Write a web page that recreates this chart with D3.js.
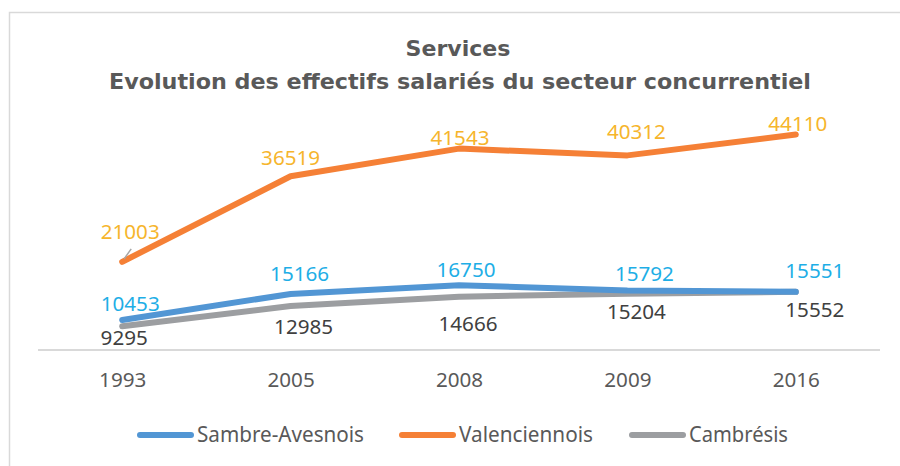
<!DOCTYPE html>
<html>
<head>
<meta charset="utf-8">
<script src="https://cdn.jsdelivr.net/npm/d3@7"></script>
<style>
  body { margin: 0; background: #fff; }
  svg { display: block; }
</style>
</head>
<body>
<div id="chart"></div>
<script>
// data
const years = ["1993", "2005", "2008", "2009", "2016"];
const sambreAvesnois = [10453, 15166, 16750, 15792, 15551];
const valenciennois  = [21003, 36519, 41543, 40312, 44110];
const cambresis      = [9295, 12985, 14666, 15204, 15552];
const seriesNames    = ["Sambre-Avesnois", "Valenciennois", "Cambrésis"];

const W = 900, H = 466;
const plot = { left: 38, right: 880, top: 102, bottom: 350 };
const labelFont = "'Noto Sans', 'Open Sans', sans-serif";

const svg = d3.select("#chart").append("svg")
  .attr("width", W).attr("height", H);

// chart frame
svg.append("rect")
  .attr("x", 9.5).attr("y", 12.5)
  .attr("width", W + 20).attr("height", H + 20)
  .attr("fill", "none")
  .attr("stroke", "#d9d9d9")
  .attr("stroke-width", 1.5);

// title
const title = svg.append("text")
  .attr("text-anchor", "middle")
  .attr("font-family", "'DejaVu Sans', sans-serif")
  .attr("font-weight", "bold")
  .attr("font-size", "22px")
  .attr("fill", "#595959");
title.append("tspan").attr("x", 458).attr("y", 56)
  .attr("textLength", 105).attr("lengthAdjust", "spacingAndGlyphs")
  .text("Services");
title.append("tspan").attr("x", 460).attr("y", 89)
  .attr("textLength", 702).attr("lengthAdjust", "spacingAndGlyphs")
  .text("Evolution des effectifs salariés du secteur concurrentiel");

// scales
const x = d3.scalePoint()
  .domain(years)
  .range([plot.left, plot.right])
  .padding(0.5);

const y = d3.scaleLinear()
  .domain([5000, 50000])
  .range([plot.bottom, plot.top]);

// x axis
const xAxis = svg.append("g")
  .attr("transform", `translate(0,${plot.bottom})`)
  .call(d3.axisBottom(x).tickSize(0).tickPadding(23));
xAxis.select(".domain")
  .attr("stroke", "#d9d9d9")
  .attr("stroke-width", 2)
  .attr("d", `M${plot.left},0H${plot.right}`);
xAxis.selectAll("text")
  .attr("font-family", labelFont)
  .attr("font-size", "20px")
  .attr("textLength", d => d.length * 11.8)
  .attr("lengthAdjust", "spacingAndGlyphs")
  .attr("fill", "#595959");

// label offsets (px) relative to each point
const series = [
  { name: seriesNames[0], values: sambreAvesnois, color: "#5296d4", label: "#1eaee6",
    dx: [8, 9, 7, 17, 19], dy: [-16, -20, -15, -17, -21], legendW: 167 },
  { name: seriesNames[1], values: valenciennois,  color: "#f58036", label: "#f6b52c",
    dx: [8, 0, 1, 9, 2], dy: [-30, -18, -11, -23, -10], legendW: 134 },
  { name: seriesNames[2], values: cambresis,      color: "#9c9ea1", label: "#404040",
    dx: [2, 13, 9, 9, 19], dy: [12, 21, 27, 18, 18], legendW: 99 }
];

const line = d3.line()
  .x((d, i) => x(years[i]))
  .y(d => y(d));

// draw grey on bottom, then blue, then orange
[series[2], series[0], series[1]].forEach(s => {
  svg.append("path")
    .datum(s.values)
    .attr("fill", "none")
    .attr("stroke", s.color)
    .attr("stroke-width", 6)
    .attr("stroke-linecap", "round")
    .attr("stroke-linejoin", "round")
    .attr("d", line);
});

// leader line for the first Valenciennois label
svg.append("line")
  .attr("x1", x(years[0]) + 2).attr("y1", y(valenciennois[0]) - 3)
  .attr("x2", x(years[0]) + 9).attr("y2", y(valenciennois[0]) - 13)
  .attr("stroke", "#a6a6a6").attr("stroke-width", 1.5);

// data labels
series.forEach(s => {
  svg.selectAll(null)
    .data(s.values)
    .join("text")
      .attr("x", (d, i) => x(years[i]) + s.dx[i])
      .attr("y", (d, i) => y(d) + s.dy[i])
      .attr("dy", "0.35em")
      .attr("text-anchor", "middle")
      .attr("font-family", labelFont)
      .attr("font-size", "20px")
      .attr("textLength", d => String(d).length * 11.8)
      .attr("lengthAdjust", "spacingAndGlyphs")
      .attr("fill", s.label)
      .text(d => d);
});

// legend
const legendX = [137, 399, 629];
const legend = svg.append("g");
series.forEach((s, i) => {
  legend.append("line")
    .attr("x1", legendX[i] + 3).attr("x2", legendX[i] + 54)
    .attr("y1", 435).attr("y2", 435)
    .attr("stroke", s.color)
    .attr("stroke-width", 6)
    .attr("stroke-linecap", "round");
  legend.append("text")
    .attr("x", legendX[i] + 60)
    .attr("y", 435)
    .attr("dy", "0.35em")
    .attr("font-family", labelFont)
    .attr("font-size", "21px")
    .attr("textLength", s.legendW)
    .attr("lengthAdjust", "spacingAndGlyphs")
    .attr("fill", "#595959")
    .text(s.name);
});
</script>
</body>
</html>
